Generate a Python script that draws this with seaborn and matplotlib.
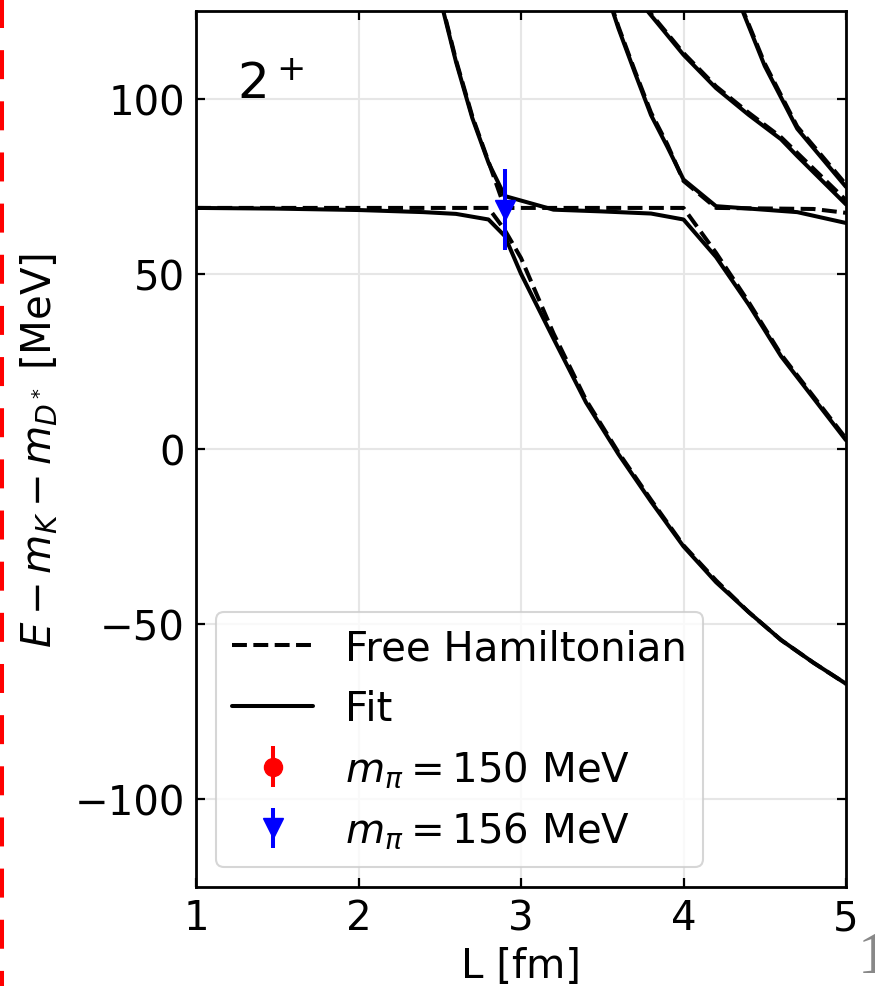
import numpy as np
import pandas as pd
import seaborn as sns
import matplotlib
matplotlib.use("Agg")
import matplotlib.pyplot as plt
from matplotlib.lines import Line2D

# ---------------- data ----------------
# Fit (solid) energy levels, E in MeV vs L in fm
fit1_L = [1.0, 1.5, 2.0, 2.4, 2.6, 2.8, 2.9, 3.0, 3.2, 3.4, 3.6, 3.8, 4.0, 4.2, 4.4, 4.6, 4.8, 5.0]
fit1_E = [68.8, 68.6, 68.2, 67.6, 67.1, 65.5, 60.8, 50.0, 31.5, 13.3, -1.5, -15.0, -27.8, -38.0, -46.5, -54.5, -61.0, -67.0]
fit2_L = [2.5, 2.6, 2.7, 2.8, 2.9, 3.2, 3.5, 3.8, 4.0, 4.2, 4.4, 4.6, 4.8, 5.0]
fit2_E = [129.0, 110.5, 94.5, 81.7, 72.2, 68.3, 67.8, 67.2, 65.5, 54.8, 41.3, 26.5, 14.5, 2.5]
fit3_L = [3.55, 3.6, 3.7, 3.8, 3.9, 4.0, 4.2, 4.7, 5.0]
fit3_E = [127.0, 120.0, 107.5, 95.3, 86.3, 76.9, 69.3, 67.6, 64.5]
fit4_L = [3.75, 4.0, 4.2, 4.4, 4.6, 4.7, 5.0]
fit4_E = [126.6, 112.5, 103.0, 95.4, 88.4, 83.6, 69.8]
fit5_L = [4.35, 4.5, 4.7, 5.0]
fit5_E = [126.6, 109.3, 91.4, 74.8]

# Free Hamiltonian (dashed) energy levels
free1_L = [1.0, 2.8, 2.9, 3.0, 3.2, 3.4, 3.6, 3.8, 4.0, 4.2, 4.4, 4.6, 4.8, 5.0]
free1_E = [68.8, 68.8, 62.5, 54.5, 33.0, 14.0, -1.0, -14.5, -27.5, -37.5, -46.5, -54.5, -61.0, -67.0]
free2_L = [2.5, 2.6, 2.7, 2.8, 2.9, 4.0, 4.2, 4.4, 4.6, 4.8, 5.0]
free2_E = [129.5, 111.0, 95.0, 82.0, 68.8, 68.8, 56.0, 42.0, 27.0, 15.0, 3.0]
free3_L = [3.55, 3.6, 3.7, 3.8, 3.9, 4.0, 4.2, 4.8, 5.0]
free3_E = [127.5, 120.5, 108.0, 96.0, 87.0, 76.5, 68.8, 68.5, 67.4]
free4_L = [3.75, 4.0, 4.2, 4.4, 4.6, 4.7, 5.0]
free4_E = [127.0, 113.0, 103.5, 96.0, 89.0, 84.5, 71.0]
free5_L = [4.35, 4.5, 4.7, 5.0]
free5_E = [127.0, 110.0, 92.0, 75.5]

# Lattice points
lat150_L, lat150_E, lat150_err = [], [], []
lat156_L, lat156_E, lat156_err = [2.9], [68.3], [11.6]

legend_labels = ["Free Hamiltonian", "Fit",
                 r"$m_\pi = 150$ MeV", r"$m_\pi = 156$ MeV"]
x_ticks = [1, 2, 3, 4, 5]
y_ticks = [-100, -50, 0, 50, 100]

# ---------------- build long-form tables ----------------
def long_table(curves):
    rows = []
    for i, (Ls, Es) in enumerate(curves):
        for l, e in zip(Ls, Es):
            rows.append({"L": l, "E": e, "level": i})
    return pd.DataFrame(rows)

df_fit = long_table([(fit1_L, fit1_E), (fit2_L, fit2_E), (fit3_L, fit3_E),
                     (fit4_L, fit4_E), (fit5_L, fit5_E)])
df_free = long_table([(free1_L, free1_E), (free2_L, free2_E), (free3_L, free3_E),
                      (free4_L, free4_E), (free5_L, free5_E)])

# ---------------- style ----------------
sns.set_theme(style="whitegrid")
plt.rcParams["font.family"] = ["DejaVu Sans"]
plt.rcParams["mathtext.fontset"] = "dejavusans"
plt.rcParams["axes.unicode_minus"] = True
for k in ["text.color", "axes.labelcolor", "xtick.color", "ytick.color"]:
    plt.rcParams[k] = "black"

FS = 29
LW = 2.9

fig = plt.figure(figsize=(8.75, 9.87), dpi=100)
ax = fig.add_axes([196 / 875, 1 - 888 / 987, 650 / 875, 876 / 987])
ax.set_facecolor("white")

sns.lineplot(data=df_free, x="L", y="E", units="level", estimator=None,
             sort=False, color="black", lw=LW, linestyle="--", legend=False, ax=ax)
sns.lineplot(data=df_fit, x="L", y="E", units="level", estimator=None,
             sort=False, color="black", lw=LW, linestyle="-", legend=False, ax=ax)

eb150 = ax.errorbar(lat150_L, lat150_E, yerr=lat150_err, fmt="o", color="red",
                    ms=13, elinewidth=LW, capsize=0)
eb156 = ax.errorbar(lat156_L, lat156_E, yerr=lat156_err, fmt="v", color="blue",
                    ms=14, elinewidth=LW, capsize=0)

ax.set_xlim(1, 5)
ax.set_ylim(-125, 125)
ax.set_xticks(x_ticks)
ax.set_yticks(y_ticks)

ax.grid(True, color="#e6e6e6", lw=1.5)
ax.set_axisbelow(True)
for s in ax.spines.values():
    s.set_color("black")
    s.set_linewidth(2.0)

ax.tick_params(direction="in", length=6.5, width=1.6, top=True, right=True,
               labelsize=FS, pad=8, colors="black", bottom=True, left=True)

ax.set_xlabel("L [fm]", fontsize=FS, labelpad=6, color="black")
ax.set_ylabel(r"$E - m_K - m_{D^*}$ [MeV]", fontsize=FS, labelpad=10, color="black")

ax.text(0.063, 0.90, r"$2^+$", transform=ax.transAxes, fontsize=36,
        va="baseline", ha="left", color="black")

handles = [Line2D([], [], color="black", lw=LW, ls="--"),
           Line2D([], [], color="black", lw=LW, ls="-"),
           eb150, eb156]
leg = ax.legend(handles, legend_labels, loc="lower left", fontsize=FS,
                frameon=True, fancybox=True, framealpha=0.8,
                edgecolor="#cccccc", handlelength=2.0, handletextpad=0.8,
                labelcolor="black")
leg.get_frame().set_linewidth(1.5)

# page artefacts around the cropped panel
fig.add_artist(Line2D([2 / 875, 2 / 875], [1, 0], transform=fig.transFigure,
                      color="red", lw=LW, dashes=(7.2, 5.5)))
fig.text(858 / 875, 1 - 973 / 987, "1", fontfamily="Liberation Serif",
         fontsize=43, color="#888888", va="baseline", ha="left")

fig.savefig("out.png", dpi=100)
